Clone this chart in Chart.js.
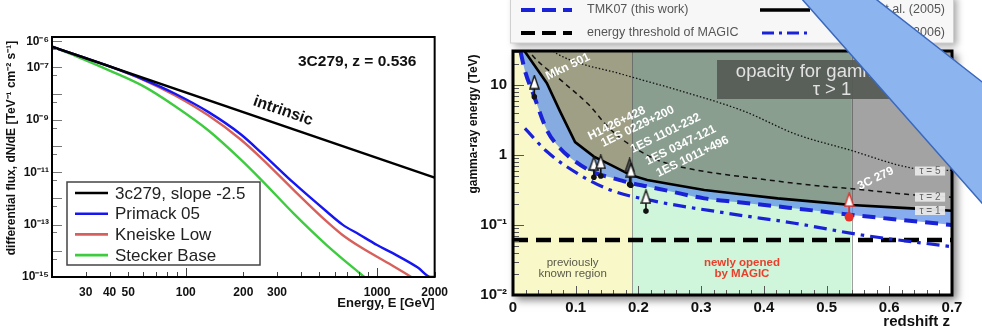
<!DOCTYPE html>
<html><head><meta charset="utf-8">
<script src="https://cdn.jsdelivr.net/npm/chart.js@4/dist/chart.umd.min.js"></script>
<style>
html,body{margin:0;padding:0;background:#fff;width:982px;height:331px;overflow:hidden}
#left{position:absolute;left:0;top:0;width:456px;height:331px}
#right{position:absolute;left:460px;top:0;width:522px;height:331px}
</style></head><body>
<canvas id="left" width="456" height="331"></canvas>
<canvas id="right" width="522" height="331"></canvas>
<script>
// ---------------- LEFT PANEL DATA: 3C279 spectrum ----------------
const energyTicks = [20,30,40,50,60,70,80,90,100,200,300,400,500,600,700,800,900,1000,2000];
const energyLabels = [30,40,50,100,200,300,1000,2000];
const fluxDecades = [1e-6,1e-7,1e-8,1e-9,1e-10,1e-11,1e-12,1e-13,1e-14,1e-15];
const fluxLabels = [1e-6,1e-7,1e-9,1e-11,1e-13,1e-15];

const intrinsicE = [20, 2000];
const intrinsicF = [6.2e-7, 6.2e-12];
const primackE = [20, 27, 40, 60, 88, 131, 193, 249, 368, 545, 660, 807, 1000, 1194, 1633, 1905, 2000];
const primackF = [6.2e-7, 2.92e-7, 1.09e-7, 3.5e-8, 9.9e-9, 2.01e-9, 2.88e-10, 5.5e-11, 3.8e-12, 3.16e-13, 1.0e-13, 4.2e-14, 1.66e-14, 8.5e-15, 2.3e-15, 1.0e-15, 1.0e-15];
const kneiskeE = [20, 27, 40, 60, 88, 131, 193, 249, 368, 545, 660, 807, 1194, 1510];
const kneiskeF = [6.2e-7, 2.92e-7, 1.09e-7, 3.37e-8, 8.5e-9, 1.48e-9, 1.82e-10, 3.4e-11, 2.04e-12, 1.32e-13, 4.0e-14, 1.48e-14, 2.8e-15, 1.0e-15];
const steckerE = [20, 27, 40, 60, 88, 131, 193, 249, 368, 545, 807, 880];
const steckerF = [6.2e-7, 2.59e-7, 7.6e-8, 1.93e-8, 3.3e-9, 4.0e-10, 3.16e-11, 5.0e-12, 2.57e-13, 1.66e-14, 1.45e-15, 8.7e-16];

// ---------------- RIGHT PANEL DATA: gamma-ray horizon ----------------
const redshiftTicks = [0,0.1,0.2,0.3,0.4,0.5,0.6,0.7];
const energyDecadesR = [0.01,0.1,1,10];
const zGrid = [0.012, 0.019, 0.033, 0.054, 0.075, 0.099, 0.129, 0.155, 0.187, 0.214, 0.25, 0.305, 0.36, 0.422, 0.48, 0.54, 0.6, 0.65, 0.7];
const tau1Solid = [45, 30, 19.8, 10.6, 4.2, 1.53, 0.95, 0.73, 0.52, 0.44, 0.385, 0.316, 0.278, 0.24, 0.216, 0.193, 0.18, 0.17, 0.16];
const tmk07 = [30, 16, 7.2, 2.27, 1.25, 0.81, 0.56, 0.48, 0.40, 0.356, 0.304, 0.24, 0.212, 0.184, 0.161, 0.139, 0.123, 0.111, 0.1];
const zDashDot = [0.019, 0.054, 0.102, 0.155, 0.214, 0.342, 0.449, 0.556, 0.70];
const dashDot = [2.4, 1.12, 0.55, 0.316, 0.23, 0.147, 0.106, 0.072, 0.049];
const zThreshold = [0, 0.7];
const threshold = [0.061, 0.061];
const zTau2 = [0.022, 0.03, 0.08, 0.123, 0.15, 0.177, 0.23, 0.284, 0.39, 0.49, 0.54, 0.641, 0.7];
const tau2 = [34, 27, 11, 5, 2.6, 1.6, 0.85, 0.63, 0.46, 0.36, 0.33, 0.268, 0.25];
const zTau5 = [0.06, 0.07, 0.177, 0.262, 0.369, 0.45, 0.534, 0.641, 0.7];
const tau5 = [33, 28, 14, 8.5, 4.2, 2.0, 1.2, 0.64, 0.6];

const srcNames = ['Mkn 501','H1426+428','1ES 0229+200','1ES 0347-121','1ES 1101-232','1ES 1011+496','3C 279'];
const srcZ = [0.034, 0.129, 0.140, 0.186, 0.188, 0.212, 0.536];
const srcLimit = [11, 0.76, 0.80, 0.72, 0.61, 0.254, 0.23];
const srcMeasured = [6.8, 0.48, 0.50, 0.38, 0.37, 0.158, 0.13];
// text anchors (z, E) for rotated source names
const srcLabelZ = [0.056, 0.123, 0.144, 0.215, 0.191, 0.232, 0.553];
const srcLabelE = [11.8, 1.64, 1.30, 0.72, 1.07, 0.485, 0.316];

const pts = (xs, ys) => xs.map((x, i) => ({x, y: ys[i]}));
const SANS = '"Liberation Sans", Arial, sans-serif';
const supMap = {'-':'\u207B','0':'\u2070','1':'\u00B9','2':'\u00B2','3':'\u00B3','4':'\u2074','5':'\u2075','6':'\u2076','7':'\u2077','8':'\u2078','9':'\u2079'};
const powLabel = v => { const e = Math.round(Math.log10(v)); if (e === 1) return '10'; if (e === 0) return '1'; return '10' + String(e).split('').map(c => supMap[c]).join(''); };

// ---------------- LEFT CHART ----------------
const leftDeco = {
  id: 'leftDeco',
  afterDatasetsDraw(chart) {
    const {ctx, chartArea: a, scales: {x, y}} = chart;
    ctx.save();
    ctx.lineWidth = 1; ctx.strokeStyle = '#444';
    energyTicks.forEach(v => {
      const px = Math.round(x.getPixelForValue(v)) + 0.5;
      const len = (v === 100 || v === 1000) ? 9 : 5;
      ctx.beginPath(); ctx.moveTo(px, a.bottom); ctx.lineTo(px, a.bottom - len); ctx.stroke();
    });
    ctx.strokeStyle = '#777';
    fluxDecades.forEach(v => {
      let py = Math.round(y.getPixelForValue(v)) + 0.5;
      ctx.beginPath(); ctx.moveTo(a.left, py); ctx.lineTo(a.left + 10, py); ctx.stroke();
      if (v > 1e-15) {
        py = Math.round(y.getPixelForValue(v * 0.5)) + 0.5;
        ctx.beginPath(); ctx.moveTo(a.left, py); ctx.lineTo(a.left + 5, py); ctx.stroke();
      }
    });
    // frame
    ctx.strokeStyle = '#000'; ctx.lineWidth = 2;
    ctx.strokeRect(a.left, a.top, a.right - a.left, a.bottom - a.top);
    // legend
    const lx = 67, ly = 182, lw = 193, lh = 83;
    ctx.fillStyle = '#fff'; ctx.fillRect(lx, ly, lw, lh);
    ctx.strokeStyle = '#444'; ctx.lineWidth = 1.5; ctx.strokeRect(lx, ly, lw, lh);
    ctx.font = '17px ' + SANS; ctx.textBaseline = 'middle'; ctx.textAlign = 'left';
    chart.data.datasets.forEach((ds, i) => {
      const ry = 193 + i * 20.7;
      ctx.strokeStyle = ds.borderColor; ctx.lineWidth = 2.6;
      ctx.beginPath(); ctx.moveTo(75, ry); ctx.lineTo(108, ry); ctx.stroke();
      ctx.fillStyle = '#222'; ctx.fillText(ds.label, 115, ry + 1);
    });
    // annotations
    ctx.fillStyle = '#111';
    ctx.font = 'bold 15.5px ' + SANS; ctx.textBaseline = 'alphabetic';
    ctx.fillText('3C279, z = 0.536', 298, 66);
    ctx.save(); ctx.translate(283, 111); ctx.rotate(19 * Math.PI / 180);
    ctx.font = 'bold 16px ' + SANS; ctx.textAlign = 'center'; ctx.textBaseline = 'middle';
    ctx.fillText('intrinsic', 0, 0); ctx.restore();
    // axis titles
    ctx.font = 'bold 13px ' + SANS; ctx.textAlign = 'right'; ctx.textBaseline = 'alphabetic';
    ctx.fillText('Energy, E [GeV]', a.right, 307);
    ctx.save(); ctx.translate(12, 148); ctx.rotate(-Math.PI / 2);
    ctx.font = 'bold 12px ' + SANS; ctx.textAlign = 'center'; ctx.textBaseline = 'middle';
    ctx.fillText('differential flux, dN/dE [TeV\u207B\u00B9 cm\u207B\u00B2 s\u207B\u00B9]', 0, 0);
    ctx.restore();
    ctx.restore();
  }
};

new Chart(document.getElementById('left'), {
  type: 'line',
  data: { datasets: [
    {label: '3c279, slope -2.5', data: pts(intrinsicE, intrinsicF), borderColor: '#000000', borderWidth: 2.4},
    {label: 'Primack 05', data: pts(primackE, primackF), borderColor: '#1616f2', borderWidth: 2.4, cubicInterpolationMode: 'monotone'},
    {label: 'Kneiske Low', data: pts(kneiskeE, kneiskeF), borderColor: '#d8605c', borderWidth: 2.4, cubicInterpolationMode: 'monotone'},
    {label: 'Stecker Base', data: pts(steckerE, steckerF), borderColor: '#3fcb3f', borderWidth: 2.4, cubicInterpolationMode: 'monotone'}
  ]},
  options: {
    responsive: false, animation: false, events: [],
    layout: {padding: {left: 0, right: 13, top: 37, bottom: 0}},
    elements: {point: {radius: 0}},
    scales: {
      x: {type: 'logarithmic', min: 20, max: 2000, grid: {display: false, drawTicks: false}, border: {display: false},
          afterBuildTicks: s => { s.ticks = energyTicks.map(v => ({value: v})); },
          afterFit: s => { s.height = 54; },
          ticks: {autoSkip: false, maxRotation: 0, padding: 8, color: '#111', font: {family: SANS, weight: 'bold', size: 12},
                  callback: v => energyLabels.includes(v) ? String(v) : ''}},
      y: {type: 'logarithmic', min: 1e-15, max: 1.45e-6, grid: {display: false, drawTicks: false}, border: {display: false},
          afterBuildTicks: s => { s.ticks = fluxDecades.map(v => ({value: v})); },
          afterFit: s => { s.width = 52; },
          ticks: {autoSkip: false, padding: 3, color: '#111', font: {family: SANS, weight: 'bold', size: 12},
                  callback: v => fluxLabels.some(f => Math.abs(f / v - 1) < 1e-6) ? powLabel(v) : ''}}
    },
    plugins: {legend: {display: false}, tooltip: {enabled: false}}
  },
  plugins: [leftDeco]
});

// ---------------- RIGHT CHART ----------------
function triImg(fill, stroke) {
  const c = document.createElement('canvas'); c.width = 11; c.height = 15;
  const g = c.getContext('2d');
  g.beginPath(); g.moveTo(5.5, 1); g.lineTo(10, 14); g.lineTo(1, 14); g.closePath();
  g.fillStyle = fill; g.fill(); g.lineWidth = 1.4; g.strokeStyle = stroke; g.stroke();
  return c;
}
const triWhite = triImg('#ffffff', '#111111');
const triDark = triImg('#5a5a5a', '#222222');
const triRed = triImg('#ffffff', '#e0302a');

const rightDeco = {
  id: 'rightDeco',
  beforeDraw(chart) {
    const {ctx, chartArea: a} = chart;
    ctx.save();
    ctx.shadowColor = 'rgba(0,0,0,0.5)'; ctx.shadowBlur = 8; ctx.shadowOffsetX = 4; ctx.shadowOffsetY = 4;
    ctx.fillStyle = '#fff'; ctx.fillRect(a.left - 1, a.top - 1, a.right - a.left + 2, a.bottom - a.top + 2);
    ctx.restore();
  },
  beforeDatasetsDraw(chart) {
    const {ctx, chartArea: a, scales: {x}} = chart;
    const bounds = [0, 0.19, 0.54, 0.7];
    const cols = ['#f8f8c8', '#cff6da', '#ffffff'];
    ctx.save();
    for (let i = 0; i < 3; i++) {
      const x0 = x.getPixelForValue(bounds[i]), x1 = x.getPixelForValue(bounds[i + 1]);
      ctx.fillStyle = cols[i]; ctx.fillRect(x0, a.top, x1 - x0, a.bottom - a.top);
    }
    ctx.strokeStyle = 'rgba(120,120,120,0.7)'; ctx.lineWidth = 1;
    [0.19, 0.54].forEach(v => { const px = Math.round(x.getPixelForValue(v)) + 0.5; ctx.beginPath(); ctx.moveTo(px, a.top); ctx.lineTo(px, a.bottom); ctx.stroke(); });
    ctx.restore();
  },
  afterDatasetsDraw(chart) {
    const {ctx, chartArea: a, scales: {x, y}} = chart;
    ctx.save();
    // region texts
    ctx.textAlign = 'center'; ctx.textBaseline = 'middle';
    ctx.font = '11.5px ' + SANS; ctx.fillStyle = '#5a5a4a';
    const xa = x.getPixelForValue(0.095);
    ctx.fillText('previously', xa, 263); ctx.fillText('known region', xa, 274);
    ctx.font = 'bold 11.5px ' + SANS; ctx.fillStyle = '#e8402c';
    const xb = x.getPixelForValue(0.365);
    ctx.fillText('newly opened', xb, 263); ctx.fillText('by MAGIC', xb, 274);
    // source labels
    ctx.fillStyle = '#ffffff'; ctx.font = 'bold 12px ' + SANS; ctx.textAlign = 'left'; ctx.textBaseline = 'alphabetic';
    srcNames.forEach((n, i) => {
      ctx.save();
      ctx.translate(x.getPixelForValue(srcLabelZ[i]), y.getPixelForValue(srcLabelE[i]));
      ctx.rotate(-26 * Math.PI / 180);
      ctx.fillText(n, 0, 0);
      ctx.restore();
    });
    // opacity box
    ctx.fillStyle = 'rgba(85,90,85,0.92)';
    ctx.fillRect(257, 60, 232, 39);
    ctx.fillStyle = '#e2e2e2'; ctx.font = '18.5px ' + SANS; ctx.textAlign = 'center'; ctx.textBaseline = 'middle';
    ctx.fillText('opacity for gamma rays', 372, 72);
    ctx.fillText('\u03C4 > 1', 372, 90);
    // tau boxes
    const bx0 = x.getPixelForValue(0.641), bx1 = x.getPixelForValue(0.689);
    [['\u03C4 = 5', 0.59], ['\u03C4 = 2', 0.25], ['\u03C4 = 1', 0.161]].forEach(([t, e]) => {
      const py = y.getPixelForValue(e);
      ctx.fillStyle = 'rgba(232,232,232,0.95)'; ctx.fillRect(bx0, py - 4.5, bx1 - bx0, 9);
      ctx.fillStyle = '#666'; ctx.font = '10px ' + SANS; ctx.fillText(t, (bx0 + bx1) / 2, py + 0.5);
    });
    // ticks
    ctx.strokeStyle = '#555'; ctx.lineWidth = 1;
    energyDecadesR.forEach(d => {
      for (let k = 1; k <= 9; k++) {
        const v = d * k; if (v > 30) break;
        const py = Math.round(y.getPixelForValue(v)) + 0.5;
        const len = k === 1 ? 11 : 6;
        ctx.beginPath(); ctx.moveTo(a.left, py); ctx.lineTo(a.left + len, py); ctx.stroke();
      }
    });
    for (let i = 0; i <= 35; i++) {
      const v = i * 0.02; const px = Math.round(x.getPixelForValue(v)) + 0.5;
      const len = (i % 5 === 0) ? 9 : 5;
      ctx.beginPath(); ctx.moveTo(px, a.bottom); ctx.lineTo(px, a.bottom - len); ctx.stroke();
    }
    // frame
    ctx.strokeStyle = '#000'; ctx.lineWidth = 3;
    ctx.strokeRect(a.left, a.top, a.right - a.left, a.bottom - a.top);
    // axis titles
    ctx.fillStyle = '#111'; ctx.font = 'bold 15px ' + SANS; ctx.textAlign = 'right'; ctx.textBaseline = 'alphabetic';
    ctx.fillText('redshift z', a.right - 2, 326);
    ctx.save(); ctx.translate(14, 124); ctx.rotate(-Math.PI / 2);
    ctx.font = 'bold 12px ' + SANS; ctx.textAlign = 'center'; ctx.textBaseline = 'middle';
    ctx.fillText('gamma-ray energy (TeV)', 0, 0);
    ctx.restore();
    ctx.restore();
  },
  afterDraw(chart) {
    const {ctx} = chart;
    ctx.save();
    // top legend box
    ctx.shadowColor = 'rgba(0,0,0,0.35)'; ctx.shadowBlur = 7; ctx.shadowOffsetX = 4; ctx.shadowOffsetY = 3;
    ctx.fillStyle = '#f7f7f7'; ctx.fillRect(50, -5, 443, 48);
    ctx.shadowColor = 'transparent';
    ctx.strokeStyle = '#d0d0d0'; ctx.lineWidth = 1; ctx.strokeRect(50.5, -5, 443, 48);
    const row = (y0, x0, x1, color, width, dash) => {
      ctx.strokeStyle = color; ctx.lineWidth = width; ctx.setLineDash(dash);
      ctx.beginPath(); ctx.moveTo(x0, y0); ctx.lineTo(x1, y0); ctx.stroke(); ctx.setLineDash([]);
    };
    row(10, 61, 112, '#1a22d8', 4, [14, 7]);
    row(33, 61, 112, '#000', 4, [14, 7]);
    row(10, 300, 350, '#000', 3.5, []);
    row(33, 302, 352, '#1a22d8', 3, [12, 5, 3, 5]);
    ctx.fillStyle = '#555'; ctx.font = '12.5px ' + SANS; ctx.textBaseline = 'middle'; ctx.textAlign = 'left';
    ctx.fillText('TMK07 (this work)', 127, 10);
    ctx.fillText('energy threshold of MAGIC', 127, 33);
    ctx.textAlign = 'right';
    ctx.fillText('Primack et al. (2005)', 485, 10);
    ctx.fillText('Stecker et al. (2006)', 485, 33);
    // blue overlay shape
    ctx.beginPath();
    ctx.moveTo(341, -2); ctx.lineTo(414.5, -2); ctx.lineTo(526, 85); ctx.lineTo(524.6, 206);
    ctx.closePath();
    ctx.fillStyle = '#8cb4ef'; ctx.fill();
    ctx.strokeStyle = '#3a68bd'; ctx.lineWidth = 1.5; ctx.stroke();
    ctx.restore();
  }
};

const stemData = [];
const stemRed = [];
srcZ.forEach((z, i) => {
  const target = srcNames[i] === '3C 279' ? stemRed : stemData;
  target.push({x: z, y: srcMeasured[i]}, {x: z, y: srcLimit[i]}, {x: z, y: null});
});

new Chart(document.getElementById('right'), {
  type: 'line',
  data: { datasets: [
    {label: 'opacity region', data: pts(zGrid, tau1Solid), borderWidth: 0, backgroundColor: 'rgba(62,62,62,0.48)', fill: 'end', order: 10},
    {label: 'TMK07 band', data: pts(zGrid, tmk07), borderWidth: 0, backgroundColor: 'rgba(95,145,232,0.75)', fill: 0, order: 9, cubicInterpolationMode: 'monotone'},
    {label: 'tau = 5', data: pts(zTau5, tau5), borderColor: '#111', borderWidth: 1.3, borderDash: [1.5, 2], cubicInterpolationMode: 'monotone', order: 4},
    {label: 'tau = 2', data: pts(zTau2, tau2), borderColor: '#111', borderWidth: 1.5, borderDash: [5, 4], cubicInterpolationMode: 'monotone', order: 4},
    {label: 'energy threshold of MAGIC', data: pts(zThreshold, threshold), borderColor: '#000', borderWidth: 4.5, borderDash: [15, 8], order: 4},
    {label: 'Stecker et al. (2006)', data: pts(zDashDot, dashDot), borderColor: '#1a22d8', borderWidth: 3.2, borderDash: [13, 6, 3.5, 6], cubicInterpolationMode: 'monotone', order: 3},
    {label: 'TMK07 (this work)', data: pts(zGrid, tmk07), borderColor: '#1a22d8', borderWidth: 4, borderDash: [13, 8], cubicInterpolationMode: 'monotone', order: 3},
    {label: 'Primack et al. (2005)', data: pts(zGrid, tau1Solid), borderColor: '#000', borderWidth: 2.6, order: 3},
    {label: 'stems', data: stemData, borderColor: '#111', borderWidth: 1.6, spanGaps: false, order: 2},
    {label: 'stem 3C279', data: stemRed, borderColor: '#e0302a', borderWidth: 1.8, spanGaps: false, order: 2},
    {label: 'measured', data: pts(srcZ, srcMeasured), showLine: false, order: 1,
      pointRadius: srcNames.map(n => n === '3C 279' ? 4.5 : 2.8),
      pointBackgroundColor: srcNames.map(n => n === '3C 279' ? '#e8302a' : '#111'),
      pointBorderColor: srcNames.map(n => n === '3C 279' ? '#e8302a' : '#111'), pointBorderWidth: 0},
    {label: 'limits', data: pts(srcZ, srcLimit), showLine: false, order: 0, pointRadius: 7,
      pointStyle: srcNames.map(n => n === '3C 279' ? triRed : (n === '1ES 0347-121' ? triDark : triWhite))}
  ]},
  options: {
    responsive: false, animation: false, events: [],
    layout: {padding: {left: 0, right: 30, top: 51, bottom: 0}},
    elements: {point: {radius: 0}, line: {tension: 0}},
    scales: {
      x: {type: 'linear', min: 0, max: 0.7, grid: {display: false, drawTicks: false}, border: {display: false},
          afterBuildTicks: s => { s.ticks = redshiftTicks.map(v => ({value: v})); },
          afterFit: s => { s.height = 36; },
          ticks: {autoSkip: false, maxRotation: 0, padding: 4, color: '#111', font: {family: SANS, weight: 'bold', size: 15},
                  callback: v => String(Math.round(v * 10) / 10)}},
      y: {type: 'logarithmic', min: 0.01, max: 30.6, grid: {display: false, drawTicks: false}, border: {display: false},
          afterBuildTicks: s => { s.ticks = energyDecadesR.map(v => ({value: v})); },
          afterFit: s => { s.width = 53; },
          ticks: {autoSkip: false, padding: 6, color: '#111', font: {family: SANS, weight: 'bold', size: 15},
                  callback: v => powLabel(v)}}
    },
    plugins: {legend: {display: false}, tooltip: {enabled: false}}
  },
  plugins: [rightDeco]
});
</script>
</body></html>
